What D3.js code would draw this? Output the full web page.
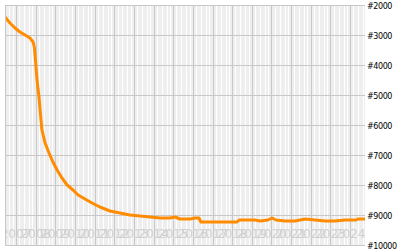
<!DOCTYPE html>
<html>
<head>
<meta charset="utf-8">
<script src="https://cdn.jsdelivr.net/npm/d3@7"></script>
<style>
  body { margin: 0; background: #fff; }
  svg { display: block; }
</style>
</head>
<body>
<div id="chart"></div>
<script>
const W = 400, H = 250
const PLOT = { LEFT: 5, RIGHT: 365, TOP: 5, BOTTOM: 245 }

// time as fractional years, value is rank
const years = [2006.44, 2006.69, 2006.95, 2007.20, 2007.46, 2007.71, 2007.87, 2007.94, 2007.99, 2008.07,
  2008.17, 2008.25, 2008.32, 2008.48, 2008.68, 2008.88, 2009.09, 2009.34, 2009.60, 2009.90,
  2010.16, 2010.51, 2010.87, 2011.27, 2011.78, 2012.29, 2012.80, 2013.31, 2013.82, 2014.33,
  2014.84, 2015.09, 2015.35, 2015.86, 2016.11, 2016.31, 2016.41, 2017.38, 2018.25, 2018.35,
  2019.16, 2019.42, 2019.82, 2020.03, 2020.23, 2020.69, 2021.20, 2021.71, 2022.22, 2022.73,
  2023.24, 2023.74, 2024.30, 2024.40, 2024.76]
const ranks = [2400, 2600, 2767, 2900, 3000, 3100, 3233, 3433, 3833, 4500,
  5067, 5667, 6167, 6600, 6933, 7233, 7500, 7767, 8000, 8167,
  8333, 8467, 8600, 8733, 8867, 8933, 9000, 9033, 9067, 9100,
  9100, 9067, 9133, 9133, 9100, 9100, 9233, 9233, 9233, 9167,
  9167, 9200, 9167, 9100, 9167, 9200, 9200, 9133, 9167, 9200,
  9200, 9167, 9167, 9133, 9133]

const yearTicks = d3.range(2007, 2025)
const rankTicks = d3.range(2000, 10001, 1000)
const stripeMonths = [2, 5, 8, 10]

const data = years.map((t, i) => ({ t: t, rank: ranks[i] }))

const svg = d3.select("#chart").append("svg")
  .attr("width", W)
  .attr("height", H)

const x = d3.scaleLinear()
  .domain([2006.44, 2024.76])
  .range([PLOT.LEFT, PLOT.RIGHT])

const y = d3.scaleLinear()
  .domain([2000, 10000])
  .range([PLOT.TOP, PLOT.BOTTOM])

svg.append("clipPath").attr("id", "plotclip")
  .append("rect")
    .attr("x", PLOT.LEFT)
    .attr("y", PLOT.TOP)
    .attr("width", PLOT.RIGHT - PLOT.LEFT)
    .attr("height", PLOT.BOTTOM - PLOT.TOP)

const g = svg.append("g").attr("clip-path", "url(#plotclip)")

g.append("rect")
  .attr("x", PLOT.LEFT)
  .attr("y", PLOT.TOP)
  .attr("width", PLOT.RIGHT - PLOT.LEFT)
  .attr("height", PLOT.BOTTOM - PLOT.TOP)
  .attr("fill", "#eeeeee")

// white stripes inside each year
const stripes = []
d3.range(2006, 2025).forEach(yr => stripeMonths.forEach(m => stripes.push(yr + m / 12)))
g.selectAll(".stripe")
  .data(stripes)
  .enter().append("line")
    .attr("class", "stripe")
    .attr("x1", d => Math.round(x(d)) + 0.5)
    .attr("x2", d => Math.round(x(d)) + 0.5)
    .attr("y1", PLOT.TOP)
    .attr("y2", PLOT.BOTTOM)
    .attr("stroke", "#ffffff")
    .attr("stroke-width", 1)

// grid
g.selectAll(".vgrid")
  .data(yearTicks)
  .enter().append("line")
    .attr("x1", d => Math.round(x(d)) + 0.5)
    .attr("x2", d => Math.round(x(d)) + 0.5)
    .attr("y1", PLOT.TOP)
    .attr("y2", PLOT.BOTTOM)
    .attr("stroke", "#c8c8c8")

g.selectAll(".hgrid")
  .data(rankTicks)
  .enter().append("line")
    .attr("x1", PLOT.LEFT)
    .attr("x2", PLOT.RIGHT)
    .attr("y1", d => Math.round(y(d)) + 0.5)
    .attr("y2", d => Math.round(y(d)) + 0.5)
    .attr("stroke", "#c8c8c8")

// year labels, inside the plot and overlapping
g.selectAll(".ylab")
  .data(yearTicks)
  .enter().append("text")
    .attr("x", d => x(d))
    .attr("y", PLOT.BOTTOM - 7)
    .attr("text-anchor", "middle")
    .attr("font-family", "DejaVu Sans, sans-serif")
    .attr("font-size", 12)
    .attr("fill", "#d0d0d0")
    .text(d => d)

// border
svg.append("line")
  .attr("x1", PLOT.LEFT + 0.5).attr("x2", PLOT.LEFT + 0.5)
  .attr("y1", PLOT.TOP).attr("y2", PLOT.BOTTOM + 1)
  .attr("stroke", "#c8c8c8")
svg.append("line")
  .attr("x1", PLOT.LEFT).attr("x2", PLOT.RIGHT)
  .attr("y1", PLOT.BOTTOM + 0.5).attr("y2", PLOT.BOTTOM + 0.5)
  .attr("stroke", "#c8c8c8")

const line = d3.line()
  .x(d => x(d.t))
  .y(d => y(d.rank))

g.append("path")
  .datum(data)
  .attr("d", line)
  .attr("fill", "none")
  .attr("stroke", "#ff8c00")
  .attr("stroke-width", 3)
  .attr("stroke-linejoin", "round")

// rank labels on the right
svg.selectAll(".rlab")
  .data(rankTicks)
  .enter().append("text")
    .attr("x", PLOT.RIGHT + 2)
    .attr("y", d => y(d) + 4)
    .attr("font-family", "DejaVu Sans, sans-serif")
    .attr("font-size", 8)
    .attr("letter-spacing", -0.4)
    .attr("fill", "#000")
    .text(d => "#" + d)
</script>
</body>
</html>
